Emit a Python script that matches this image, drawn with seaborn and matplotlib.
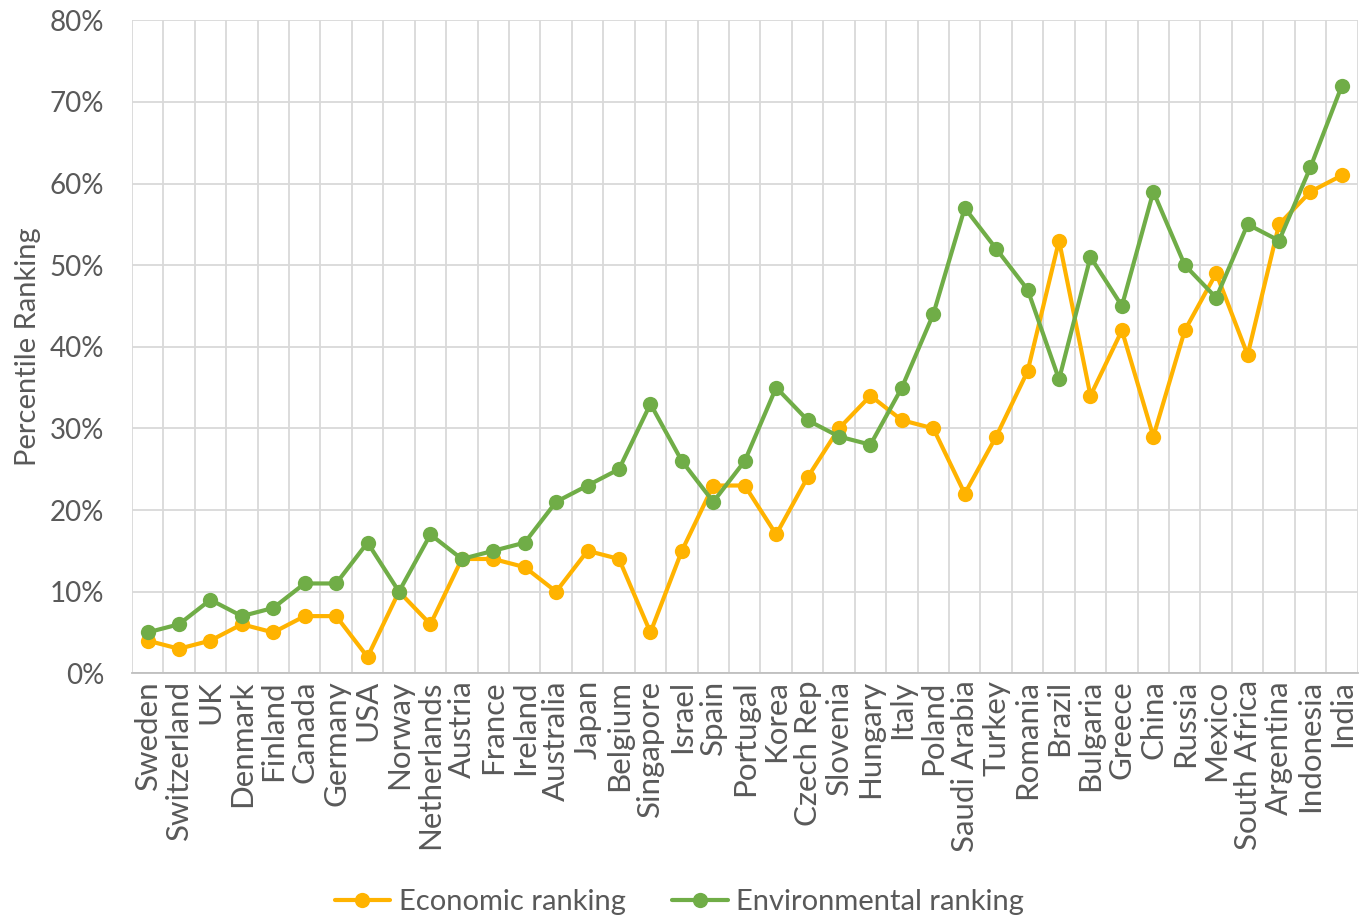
import pandas as pd
import matplotlib.pyplot as plt
import seaborn as sns
import numpy as np

# paises ordenados como en el grafico original
countries = ['Sweden', 'Switzerland', 'UK', 'Denmark', 'Finland', 'Canada', 'Germany',
             'USA', 'Norway', 'Netherlands', 'Austria', 'France', 'Ireland', 'Australia',
             'Japan', 'Belgium', 'Singapore', 'Israel', 'Spain', 'Portugal', 'Korea',
             'Czech Rep', 'Slovenia', 'Hungary', 'Italy', 'Poland', 'Saudi Arabia',
             'Turkey', 'Romania', 'Brazil', 'Bulgaria', 'Greece', 'China', 'Russia',
             'Mexico', 'South Africa', 'Argentina', 'Indonesia', 'India']

# percentiles (en %)
economic = [4, 3, 4, 6, 5, 7, 7, 2, 10, 6, 14, 14, 13, 10, 15, 14, 5, 15, 23, 23, 17,
            24, 30, 34, 31, 30, 22, 29, 37, 53, 34, 42, 29, 42, 49, 39, 55, 59, 61]
environmental = [5, 6, 9, 7, 8, 11, 11, 16, 10, 17, 14, 15, 16, 21, 23, 25, 33, 26, 21,
                 26, 35, 31, 29, 28, 35, 44, 57, 52, 47, 36, 51, 45, 59, 50, 46, 55, 53,
                 62, 72]

y_ticks = [0, 10, 20, 30, 40, 50, 60, 70, 80]

df = pd.DataFrame({'Country': countries,
                   'Economic ranking': np.array(economic) / 100,
                   'Environmental ranking': np.array(environmental) / 100})
df['pos'] = np.arange(len(countries))
df_long = df.melt(id_vars=['Country', 'pos'], var_name='Serie', value_name='Valor')

sns.set_style('white')
plt.rcParams['font.family'] = ['Lato', 'DejaVu Sans']

fig = plt.figure(figsize=(13.59, 9.21), dpi=100)
ax = fig.add_axes([0.097, 0.269, 0.902, 0.709])

palette = {'Economic ranking': '#FFB300', 'Environmental ranking': '#70AD47'}
sns.lineplot(data=df_long, x='pos', y='Valor', hue='Serie', palette=palette,
             marker='o', markersize=11, markeredgewidth=0, linewidth=3,
             sort=False, ax=ax)

n = len(countries)
ax.set_xlim(-0.5, n - 0.5)
ax.set_ylim(0, 0.8)
ax.set_xticks(np.arange(n))
ax.set_xticklabels(countries, rotation=90, fontsize=22.5, color='#595959')
ax.set_xticks(np.arange(n + 1) - 0.5, minor=True)
ax.set_yticks(np.array(y_ticks) / 100)
ax.set_yticklabels([f'{t}%' for t in y_ticks], fontsize=20, color='#595959')
ax.tick_params(axis='x', which='both', length=0, pad=5)
ax.tick_params(axis='y', which='both', length=0, pad=20)

ax.grid(True, axis='y', which='major', color='#D9D9D9', linewidth=1.3)
ax.grid(True, axis='x', which='minor', color='#D9D9D9', linewidth=1.3)
ax.grid(False, axis='x', which='major')
ax.set_axisbelow(True)
for s in ['top', 'right', 'left']:
    ax.spines[s].set_visible(False)
ax.spines['bottom'].set_color('#BFBFBF')
ax.spines['bottom'].set_linewidth(1.3)

ax.set_xlabel('')
ax.set_ylabel('Percentile Ranking', fontsize=21, color='#595959', labelpad=6)

handles, labels = ax.get_legend_handles_labels()
ax.get_legend().remove()
fig.legend(handles, labels, loc='lower center', bbox_to_anchor=(0.5, -0.022), ncol=2,
           frameon=False, fontsize=21, labelcolor='#595959', handlelength=1.9,
           columnspacing=1.6, handletextpad=0.3)

plt.savefig('out.png', dpi=100)
